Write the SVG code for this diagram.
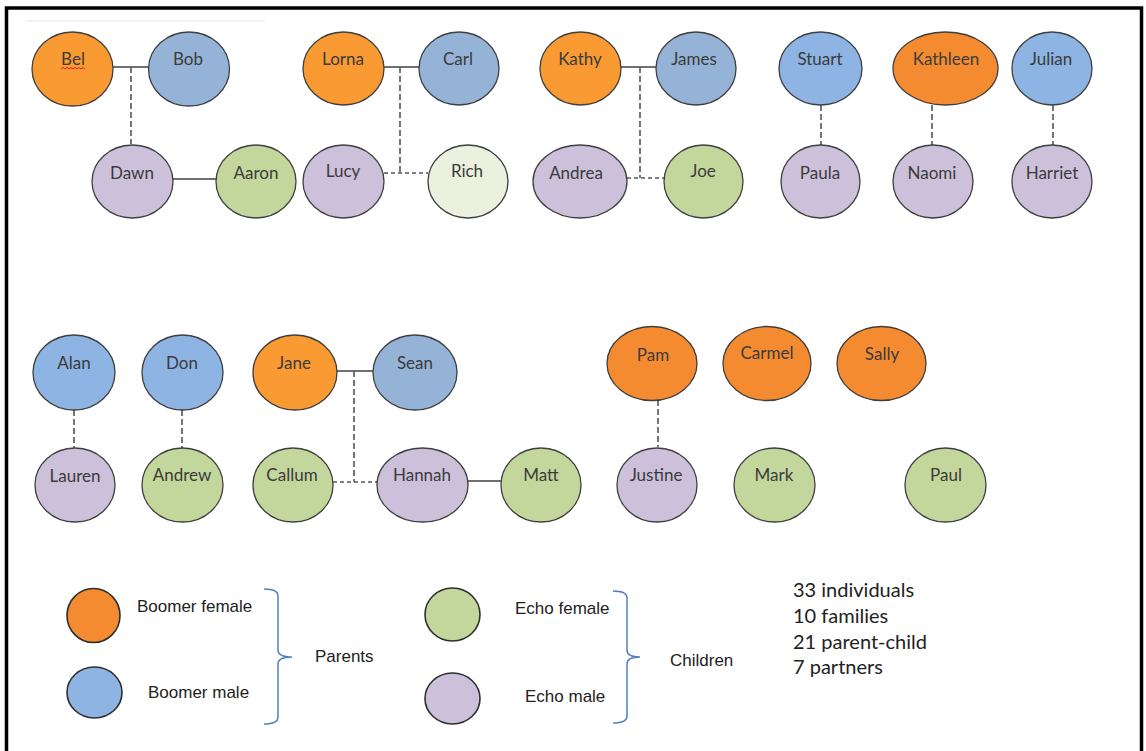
<svg xmlns="http://www.w3.org/2000/svg" width="1146" height="751" viewBox="0 0 1146 751">
  <style>
    .node { stroke: #3f3f3f; stroke-width: 1.3; }
    .bf1 { fill: #F99A33; }
    .bf2 { fill: #F58B31; }
    .bm1 { fill: #95B3D7; }
    .bm2 { fill: #8DB4E2; }
    .ef { fill: #C3D69B; }
    .ef2 { fill: #EBF1DE; }
    .em { fill: #CCC0DA; }
    .lbl { font-family: Lato, "Liberation Sans", sans-serif; font-size: 17px; fill: #3b3b3b; text-anchor: middle; }
    .partner { stroke: #404040; stroke-width: 1.4; fill: none; }
    .parent { stroke: #555555; stroke-width: 1.6; stroke-dasharray: 6 3; fill: none; }
    .sibling { stroke: #555555; stroke-width: 1.6; stroke-dasharray: 4 3; fill: none; }
    .key { stroke: #2e2e2e; stroke-width: 1.6; }
    .keytxt { font-family: "Liberation Sans", Arial, sans-serif; font-size: 17px; fill: #222; }
    .brace { stroke: #4F81BD; stroke-width: 1.5; fill: none; }
    .stats { font-family: Lato, "Liberation Sans", sans-serif; font-size: 20px; fill: #222; }
  </style>

  <!-- page frame -->
  <rect x="0" y="0" width="1146" height="751" fill="#ffffff"/>
  <rect x="6.5" y="8" width="1135" height="800" fill="none" stroke="#000" stroke-width="3.5"/>
  <line x1="27" y1="21" x2="265" y2="21" stroke="#e3e3e3" stroke-width="1"/>

  <!-- connectors -->
  <g id="connectors">
    <line class="partner" x1="113" y1="67" x2="148" y2="67"/>
    <line class="parent" x1="131" y1="67" x2="131" y2="144"/>
    <line class="partner" x1="173" y1="179" x2="216" y2="179"/>

    <line class="partner" x1="384" y1="67" x2="419" y2="67"/>
    <line class="parent" x1="400" y1="67" x2="400" y2="173"/>
    <line class="sibling" x1="384" y1="173" x2="428" y2="173"/>

    <line class="partner" x1="621" y1="67" x2="656" y2="67"/>
    <line class="parent" x1="640" y1="67" x2="640" y2="178"/>
    <line class="sibling" x1="627" y1="178" x2="664" y2="178"/>

    <line class="parent" x1="821" y1="105" x2="821" y2="145"/>
    <line class="parent" x1="932" y1="105" x2="932" y2="145"/>
    <line class="parent" x1="1053" y1="105" x2="1053" y2="145"/>

    <line class="parent" x1="74" y1="410" x2="74" y2="448"/>
    <line class="parent" x1="182" y1="410" x2="182" y2="448"/>

    <line class="partner" x1="337" y1="371" x2="373" y2="371"/>
    <line class="parent" x1="354" y1="371" x2="354" y2="482"/>
    <line class="sibling" x1="333" y1="482" x2="377" y2="482"/>
    <line class="partner" x1="468" y1="481" x2="501" y2="481"/>

    <line class="parent" x1="658" y1="400" x2="658" y2="447"/>
  </g>

  <!-- family 1 -->
  <g id="bel"><ellipse class="node bf1" cx="72.5" cy="69" rx="40.5" ry="37"/><text class="lbl" x="73" y="65">Bel</text>
    <path d="M61 69 l2 -1.5 l2 1.5 l2 -1.5 l2 1.5 l2 -1.5 l2 1.5 l2 -1.5 l2 1.5 l2 -1.5 l2 1.5 l2 -1.5 l2 1.5" fill="none" stroke="#e02020" stroke-width="1"/></g>
  <g id="bob"><ellipse class="node bm1" cx="189" cy="69" rx="40.5" ry="37"/><text class="lbl" x="188" y="65">Bob</text></g>
  <g id="dawn"><ellipse class="node em" cx="132.5" cy="181.5" rx="40.5" ry="36.5"/><text class="lbl" x="132" y="179">Dawn</text></g>
  <g id="aaron"><ellipse class="node ef" cx="256" cy="181.5" rx="40" ry="36.5"/><text class="lbl" x="256" y="179">Aaron</text></g>

  <!-- family 2 -->
  <g id="lorna"><ellipse class="node bf1" cx="343.5" cy="68.5" rx="40.5" ry="36.5"/><text class="lbl" x="343" y="65">Lorna</text></g>
  <g id="carl"><ellipse class="node bm1" cx="459" cy="68.5" rx="40" ry="36.5"/><text class="lbl" x="458" y="65">Carl</text></g>
  <g id="lucy"><ellipse class="node em" cx="343.5" cy="181.5" rx="40.5" ry="36.5"/><text class="lbl" x="343" y="177">Lucy</text></g>
  <g id="rich"><ellipse class="node ef2" cx="468" cy="181.5" rx="40" ry="36.5"/><text class="lbl" x="467" y="177">Rich</text></g>

  <!-- family 3 -->
  <g id="kathy"><ellipse class="node bf1" cx="580.5" cy="68.5" rx="40.5" ry="36.5"/><text class="lbl" x="580" y="65">Kathy</text></g>
  <g id="james"><ellipse class="node bm1" cx="696" cy="68.5" rx="40" ry="36.5"/><text class="lbl" x="694" y="65">James</text></g>
  <g id="andrea"><ellipse class="node em" cx="580" cy="181.5" rx="47" ry="36.5"/><text class="lbl" x="576" y="179">Andrea</text></g>
  <g id="joe"><ellipse class="node ef" cx="703.5" cy="181.5" rx="39.5" ry="36.5"/><text class="lbl" x="703" y="177">Joe</text></g>

  <!-- single-parent families, top -->
  <g id="stuart"><ellipse class="node bm2" cx="820.5" cy="68.5" rx="41.5" ry="36.5"/><text class="lbl" x="820" y="65">Stuart</text></g>
  <g id="paula"><ellipse class="node em" cx="820.5" cy="181.5" rx="39.5" ry="36.5"/><text class="lbl" x="820" y="179">Paula</text></g>
  <g id="kathleen"><ellipse class="node bf2" cx="945.5" cy="68.5" rx="52.5" ry="36.5"/><text class="lbl" x="946" y="65">Kathleen</text></g>
  <g id="naomi"><ellipse class="node em" cx="933" cy="181.5" rx="40" ry="36.5"/><text class="lbl" x="932" y="179">Naomi</text></g>
  <g id="julian"><ellipse class="node bm2" cx="1052" cy="68.5" rx="40" ry="36.5"/><text class="lbl" x="1051" y="65">Julian</text></g>
  <g id="harriet"><ellipse class="node em" cx="1052" cy="181.5" rx="40" ry="36.5"/><text class="lbl" x="1052" y="179">Harriet</text></g>

  <!-- single-parent families, bottom -->
  <g id="alan"><ellipse class="node bm2" cx="74" cy="372.5" rx="41" ry="37.5"/><text class="lbl" x="74" y="369">Alan</text></g>
  <g id="lauren"><ellipse class="node em" cx="75" cy="485" rx="40" ry="37"/><text class="lbl" x="75" y="482">Lauren</text></g>
  <g id="don"><ellipse class="node bm2" cx="182.5" cy="372.5" rx="40.5" ry="37.5"/><text class="lbl" x="182" y="369">Don</text></g>
  <g id="andrew"><ellipse class="node ef" cx="182.5" cy="485" rx="40.5" ry="37"/><text class="lbl" x="182" y="481">Andrew</text></g>

  <!-- family 4 -->
  <g id="jane"><ellipse class="node bf1" cx="295" cy="372.5" rx="42" ry="37.5"/><text class="lbl" x="294" y="369">Jane</text></g>
  <g id="sean"><ellipse class="node bm1" cx="415" cy="372.5" rx="42" ry="37.5"/><text class="lbl" x="415" y="369">Sean</text></g>
  <g id="callum"><ellipse class="node ef" cx="293" cy="485" rx="40" ry="37"/><text class="lbl" x="292" y="481">Callum</text></g>
  <g id="hannah"><ellipse class="node em" cx="422.5" cy="485" rx="45.5" ry="37"/><text class="lbl" x="422" y="481">Hannah</text></g>
  <g id="matt"><ellipse class="node ef" cx="541" cy="485" rx="40" ry="37"/><text class="lbl" x="541" y="481">Matt</text></g>

  <!-- remaining individuals -->
  <g id="pam"><ellipse class="node bf2" cx="652" cy="363.5" rx="45" ry="37"/><text class="lbl" x="653" y="361">Pam</text></g>
  <g id="justine"><ellipse class="node em" cx="657" cy="485" rx="40" ry="37"/><text class="lbl" x="656" y="481">Justine</text></g>
  <g id="carmel"><ellipse class="node bf2" cx="767" cy="363.5" rx="44" ry="37"/><text class="lbl" x="767" y="359">Carmel</text></g>
  <g id="mark"><ellipse class="node ef" cx="774.5" cy="485" rx="40.5" ry="37"/><text class="lbl" x="774" y="481">Mark</text></g>
  <g id="sally"><ellipse class="node bf2" cx="881.5" cy="363.5" rx="44.5" ry="37"/><text class="lbl" x="882" y="360">Sally</text></g>
  <g id="paul"><ellipse class="node ef" cx="945.5" cy="485" rx="40.5" ry="37"/><text class="lbl" x="946" y="481">Paul</text></g>

  <!-- key -->
  <g id="legend">
    <ellipse class="key bf2" cx="93.5" cy="615.5" rx="26.5" ry="27"/>
    <text class="keytxt" x="137" y="612">Boomer female</text>
    <ellipse class="key bm2" cx="94.5" cy="692.5" rx="27.5" ry="25.5"/>
    <text class="keytxt" x="148" y="698">Boomer male</text>
    <path class="brace" d="M264 589 Q278 589 278 596 L278 650 Q278 657 292 657 Q278 657 278 664 L278 717 Q278 724 264 724"/>
    <text class="keytxt" x="315" y="662">Parents</text>

    <ellipse class="key ef" cx="452.5" cy="614.5" rx="27.5" ry="26.5"/>
    <text class="keytxt" x="515" y="614">Echo female</text>
    <ellipse class="key em" cx="452.5" cy="698.5" rx="27.5" ry="25.5"/>
    <text class="keytxt" x="525" y="702">Echo male</text>
    <path class="brace" d="M613 591 Q627 591 627 598 L627 650 Q627 657 640 657 Q627 657 627 664 L627 716 Q627 723 613 723"/>
    <text class="keytxt" x="670" y="666">Children</text>
  </g>

  <!-- summary -->
  <g id="summary">
    <text class="stats" x="793" y="597">33 individuals</text>
    <text class="stats" x="793" y="623">10 families</text>
    <text class="stats" x="793" y="649">21 parent-child</text>
    <text class="stats" x="793" y="674">7 partners</text>
  </g>
</svg>
